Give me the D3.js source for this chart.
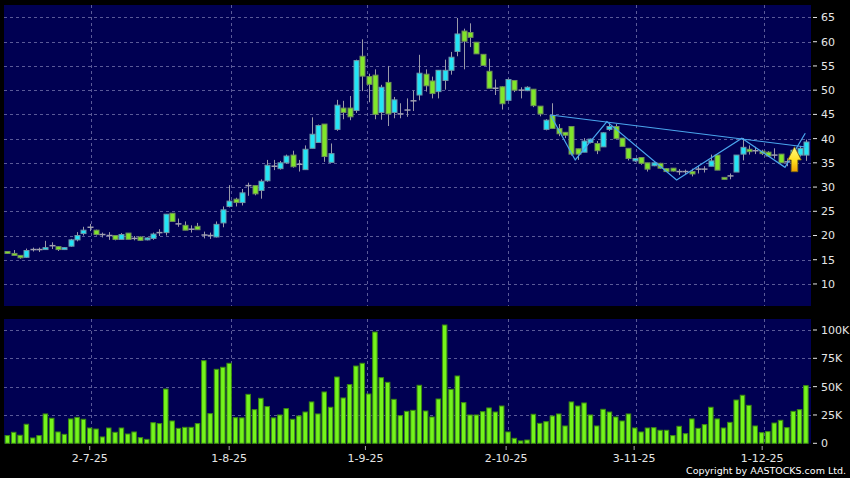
<!DOCTYPE html>
<html><head><meta charset="utf-8">
<script src="https://cdn.jsdelivr.net/npm/d3@7"></script>
<style>html,body{margin:0;padding:0;background:#000;}svg{display:block;}</style>
</head><body>
<svg id="c" width="850" height="478"></svg>
<script>
const openP  = [16.7,16.3,15.9,15.5,17.1,17.1,17.1,17.9,17.7,17.1,17.8,19.1,20.4,21.7,21.1,20.2,20.0,20.0,19.2,20.5,19.4,19.7,19.1,19.4,20.6,20.6,24.6,22.4,22.1,21.3,21.9,20.1,20.0,19.7,22.6,26.0,27.5,26.8,30.3,30.3,29.3,31.3,34.3,33.8,35.0,36.6,34.7,33.6,38.0,39.2,43.0,35.1,41.9,46.3,46.3,45.8,57.0,52.8,53.1,45.4,51.6,45.4,45.1,45.9,47.8,49.0,53.3,51.9,49.7,52.0,54.1,58.0,62.2,61.9,59.9,57.4,53.9,50.4,50.7,47.9,52.0,50.0,49.9,50.2,46.7,41.9,44.8,42.1,41.3,42.5,37.9,37.2,39.2,39.0,38.3,41.9,42.5,40.1,38.0,35.4,36.1,35.0,34.4,34.9,33.8,33.9,33.2,33.2,33.2,33.7,33.7,34.3,36.6,32.0,32.3,33.1,36.8,37.8,37.5,37.4,37.2,36.6,36.8,35.2,36.5,36.6,36.6];
const highP  = [16.8,17.0,15.9,17.3,17.5,17.5,18.9,18.6,17.8,17.6,19.3,20.7,21.8,22.4,21.2,20.6,20.7,20.0,20.5,20.5,19.9,19.8,19.6,20.6,21.3,24.4,24.6,23.5,22.9,22.1,22.6,20.8,20.6,22.9,26.0,30.4,27.8,29.6,30.9,30.3,31.6,35.6,35.6,35.4,36.7,37.5,35.6,38.6,44.4,42.9,43.0,39.0,48.0,47.8,48.8,56.3,60.5,53.4,54.3,51.1,55.0,48.6,47.3,48.3,49.9,57.3,54.3,52.8,54.1,56.3,57.9,64.9,62.7,63.8,59.9,57.4,56.5,52.2,50.8,52.4,52.0,50.6,50.8,50.2,46.7,44.0,47.3,43.0,41.3,42.5,37.9,40.1,40.0,39.5,41.3,43.1,43.0,40.1,38.0,36.0,36.1,35.0,35.1,35.0,33.9,33.9,33.7,33.6,33.8,34.4,34.3,36.7,36.6,32.0,32.8,36.6,40.1,38.6,38.3,37.7,37.4,38.0,36.8,35.9,37.9,38.5,39.8];
const lowP   = [16.2,15.9,15.2,15.4,16.7,16.6,17.1,17.2,16.8,17.0,17.7,18.8,20.0,20.9,20.0,19.6,19.1,19.0,19.2,19.2,19.0,18.9,19.0,19.1,19.9,20.0,22.8,21.8,21.1,20.6,21.2,19.4,19.3,19.6,21.7,25.8,26.0,26.2,28.2,28.3,27.6,31.1,33.5,33.6,34.8,34.0,33.2,33.6,38.0,39.1,35.2,35.1,41.6,44.0,43.8,45.3,49.8,47.5,44.0,43.9,42.6,44.2,44.2,44.5,45.7,47.9,49.7,48.3,48.3,50.1,53.2,57.0,54.3,58.9,57.5,55.1,50.4,49.0,46.0,47.8,49.6,48.3,49.8,46.5,44.6,41.7,42.0,40.5,40.1,36.5,35.6,37.2,39.0,36.8,38.3,41.6,39.9,38.4,35.5,35.2,34.6,33.2,34.3,33.8,33.1,33.2,32.5,32.7,32.2,32.8,33.0,34.3,33.5,31.6,31.6,33.1,35.5,36.7,36.8,36.6,36.2,35.9,35.0,34.3,36.3,36.3,35.4];
const closeP = [16.3,15.9,15.4,16.9,17.1,17.1,17.5,17.9,17.1,17.5,19.1,20.0,21.1,21.7,20.2,20.2,20.0,19.2,20.2,19.2,19.4,19.0,19.5,20.3,20.6,24.4,22.9,22.4,21.1,21.3,21.2,20.1,20.0,22.3,25.3,27.1,26.8,28.8,30.3,28.6,31.2,34.5,34.3,35.0,36.4,34.2,34.7,37.8,40.9,42.7,36.3,36.9,46.9,45.4,44.5,56.1,52.9,51.2,45.0,50.6,45.1,48.0,45.1,45.9,47.8,53.5,50.9,49.3,54.1,54.1,56.8,61.6,60.1,60.9,57.5,55.1,50.4,50.4,47.2,52.2,50.0,50.0,50.6,46.8,45.1,43.8,42.1,41.0,40.7,36.8,36.8,39.5,39.9,37.5,41.2,42.5,40.0,38.4,35.9,35.9,34.9,33.7,35.0,33.9,33.2,33.3,33.2,33.2,32.7,33.7,33.7,35.4,33.5,31.6,32.3,36.6,38.2,37.3,37.5,36.9,36.4,36.6,35.0,35.2,37.6,38.0,39.3];
const volumeK = [6.8,9.7,7.1,16.8,4.7,6.8,25.9,22.1,10.0,7.9,21.5,22.9,21.2,13.5,12.6,5.6,13.5,9.7,13.5,8.2,10.0,5.0,3.5,18.2,17.4,47.9,19.7,13.2,14.1,14.1,17.4,72.9,26.2,65.3,67.1,70.6,22.6,22.4,43.2,29.7,39.7,32.4,22.4,25.0,30.6,21.2,24.1,27.6,36.5,25.9,45.3,31.8,58.5,40.0,51.8,68.2,70.6,43.5,98.2,57.9,53.8,38.8,24.4,28.2,29.1,51.2,28.5,23.2,39.1,104.4,47.6,59.4,35.9,25.0,25.0,27.9,31.2,27.6,32.9,10.0,4.4,2.1,2.9,25.6,17.6,19.1,24.1,25.9,15.3,36.5,32.9,35.6,25.0,15.3,30.0,27.6,23.2,19.7,25.9,13.5,10.0,13.5,13.8,11.5,11.5,6.8,15.0,8.5,21.5,13.2,16.5,31.8,21.5,13.5,18.5,38.2,42.4,33.5,15.3,9.4,10.3,17.9,20.3,13.8,28.2,29.7,50.9];
const priceTicks = [10,15,20,25,30,35,40,45,50,55,60,65];
const volTicks = [0,25,50,75,100];
const volTickLabels = ["0","25K","50K","75K","100K"];
const dateTickIdx = [13,35,56.5,78.7,98.9,119.1];
const dateTickLabels = ["2-7-25","1-8-25","1-9-25","2-10-25","3-11-25","1-12-25"];
// user-drawn trend lines (bar index, price)
const trendLong = [[85.7,44.88],[126,38.27]];
const zigzag = [[85.7,44.88],[89.6,35.59],[94.6,43.5],[105.6,31.46],[115.9,40.07],[122.7,34.08],[125.9,41.1]];
const arrowMark = {i:124.2, top:38.33, bottom:33.17};

const n = closeP.length;
const svg = d3.select("#c");
const P = {l:4, r:811, t:5, b:306};
const V = {l:4, r:811, t:319, b:443.5};
const x = d3.scaleLinear().domain([0,n-1]).range([7.35,805.9]);
const y = d3.scaleLinear().domain([5.45,67.58]).range([306,5]);
const yv = d3.scaleLinear().domain([0,109.7]).range([443.3,319]);
const navy = "#000052", grid = "#5a5a98", txt = "#e6e6e6";
const font = "DejaVu Sans, Verdana, sans-serif";

svg.append("rect").attr("width",850).attr("height",478).attr("fill","#000");
svg.append("rect").attr("x",P.l).attr("y",P.t).attr("width",P.r-P.l).attr("height",P.b-P.t).attr("fill",navy);
svg.append("rect").attr("x",V.l).attr("y",V.t).attr("width",V.r-V.l).attr("height",V.b-V.t).attr("fill",navy);

const gGrid = svg.append("g").attr("stroke",grid).attr("stroke-dasharray","3,3").attr("stroke-width",1);
gGrid.selectAll("line.hp").data(priceTicks).join("line")
  .attr("x1",P.l).attr("x2",P.r).attr("y1",d=>Math.round(y(d))+0.5).attr("y2",d=>Math.round(y(d))+0.5);
gGrid.selectAll("line.hv").data(volTicks.filter(d=>d>0)).join("line").attr("class","hv")
  .attr("x1",V.l).attr("x2",V.r).attr("y1",d=>Math.round(yv(d))+0.5).attr("y2",d=>Math.round(yv(d))+0.5);
gGrid.selectAll("line.vp").data(dateTickIdx).join("line").attr("class","vp")
  .attr("x1",d=>Math.round(x(d)+1.5)+0.5).attr("x2",d=>Math.round(x(d)+1.5)+0.5).attr("y1",P.t).attr("y2",P.b);
gGrid.selectAll("line.vv").data(dateTickIdx).join("line").attr("class","vv")
  .attr("x1",d=>Math.round(x(d)+1.5)+0.5).attr("x2",d=>Math.round(x(d)+1.5)+0.5).attr("y1",V.t).attr("y2",V.b);

// right axes
const gA = svg.append("g").attr("font-family",font).attr("font-size",11).attr("fill",txt);
priceTicks.forEach(v=>{
  gA.append("line").attr("x1",813).attr("x2",817).attr("y1",y(v)).attr("y2",y(v)).attr("stroke",txt);
  gA.append("text").attr("x",821).attr("y",y(v)).attr("dy","0.36em").text(v);
});
volTicks.forEach((v,k)=>{
  gA.append("line").attr("x1",813).attr("x2",817).attr("y1",yv(v)).attr("y2",yv(v)).attr("stroke",txt);
  gA.append("text").attr("x",821).attr("y",yv(v)).attr("dy","0.36em").text(volTickLabels[k]);
});
dateTickIdx.forEach((t,k)=>{
  gA.append("line").attr("x1",x(t)).attr("x2",x(t)).attr("y1",446).attr("y2",450).attr("stroke","#aaa");
  gA.append("text").attr("x",x(t)).attr("y",462).attr("text-anchor","middle").text(dateTickLabels[k]);
});
svg.append("text").attr("x",846).attr("y",474).attr("text-anchor","end").attr("font-family",font)
  .attr("font-size",9.5).attr("fill","#fff").text("Copyright by AASTOCKS.com Ltd.");

// volume bars
svg.append("g").selectAll("rect").data(volumeK).join("rect")
  .attr("x",(d,i)=>x(i)-2.25).attr("width",4.5)
  .attr("y",d=>yv(d)).attr("height",d=>yv(0)-yv(d))
  .attr("fill","#74f41c").attr("stroke","#3c8a12").attr("stroke-width",1);

// candles
const data = d3.range(n).map(i=>({i,o:openP[i],h:highP[i],l:lowP[i],c:closeP[i]}));
const gC = svg.append("g");
gC.selectAll("line.w").data(data).join("line").attr("class","w")
  .attr("x1",d=>Math.round(x(d.i))+0.5).attr("x2",d=>Math.round(x(d.i))+0.5)
  .attr("y1",d=>y(d.h)).attr("y2",d=>y(d.l)).attr("stroke","#9a9aa8").attr("stroke-width",1);
gC.selectAll("rect.b").data(data.filter(d=>d.o!==d.c)).join("rect").attr("class","b")
  .attr("x",d=>Math.round(x(d.i))-2).attr("width",5)
  .attr("y",d=>y(Math.max(d.o,d.c))).attr("height",d=>Math.max(1,Math.abs(y(d.o)-y(d.c))))
  .attr("fill",d=>d.c>d.o?"#22e4f6":"#80e62a")
  .attr("stroke",d=>d.c>d.o?"#6e98a8":"#6f8f5a").attr("stroke-width",1);
gC.selectAll("line.d").data(data.filter(d=>d.o===d.c)).join("line").attr("class","d")
  .attr("x1",d=>Math.round(x(d.i))-2.5).attr("x2",d=>Math.round(x(d.i))+3.5)
  .attr("y1",d=>y(d.c)).attr("y2",d=>y(d.c)).attr("stroke","#a0a0b0").attr("stroke-width",1.5);

// trend lines
const ln = d3.line().x(d=>x(d[0])).y(d=>y(d[1]));
svg.append("path").attr("d",ln(trendLong)).attr("fill","none").attr("stroke","#4aa6ee").attr("stroke-width",1.2);
svg.append("path").attr("d",ln(zigzag)).attr("fill","none").attr("stroke","#4aa6ee").attr("stroke-width",1.2);

// arrow
const defs = svg.append("defs");
const gr = defs.append("linearGradient").attr("id","ag").attr("x1",0).attr("y1",0).attr("x2",0).attr("y2",1);
gr.append("stop").attr("offset","0%").attr("stop-color","#fffb8a");
gr.append("stop").attr("offset","55%").attr("stop-color","#ffe020");
gr.append("stop").attr("offset","100%").attr("stop-color","#f0a000");
const ax = x(arrowMark.i), at = y(arrowMark.top), ab = y(arrowMark.bottom), hb = at + (ab-at)*0.53;
svg.append("path")
  .attr("d",`M${ax},${at} L${ax+6.8},${hb} L${ax+3.3},${hb} L${ax+3.3},${ab} L${ax-3.3},${ab} L${ax-3.3},${hb} L${ax-6.8},${hb} Z`)
  .attr("fill","url(#ag)").attr("stroke","#7a6a10").attr("stroke-width",0.8);
</script>
</body></html>
